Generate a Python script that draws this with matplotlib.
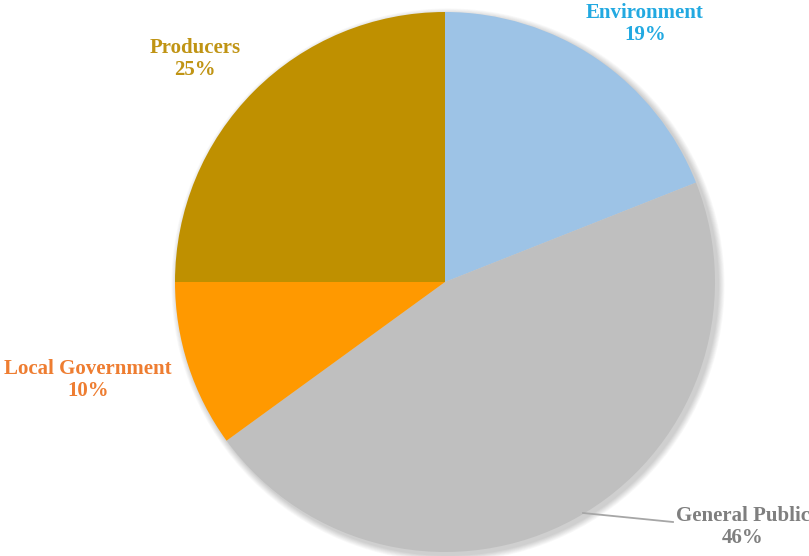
import matplotlib
matplotlib.use("Agg")
import matplotlib.pyplot as plt
import numpy as np

categories = ["Environment", "General Public", "Local Government", "Producers"]
values = [19, 46, 10, 25]
slice_colors = ["#9dc3e6", "#bfbfbf", "#ff9900", "#bf9000"]
label_colors = ["#22a9e1", "#7f7f7f", "#ee7d31", "#c09414"]

W, H = 809, 556
fig = plt.figure(figsize=(W / 100, H / 100), dpi=100)
ax = fig.add_axes([0, 0, 1, 1])
ax.set_xlim(0, W)
ax.set_ylim(0, H)
ax.axis("off")

cx, cy, r = 445, H - 282, 270

# soft shadow
for i in range(8):
    ax.add_patch(plt.Circle((cx + 3, cy - 3), r + 1 + i * 0.8, color="#000000",
                            alpha=0.025, lw=0, zorder=0))

wedges, _ = ax.pie(values, colors=slice_colors, startangle=90, counterclock=False,
                   center=(cx, cy), radius=r, frame=True,
                   wedgeprops=dict(linewidth=0))
ax.set_xlim(0, W)
ax.set_ylim(0, H)
ax.axis("off")

font = dict(family=["Liberation Serif", "DejaVu Serif"], fontweight="bold", fontsize=15)
label_pos = {
    "Environment": (645, H - 24),
    "General Public": (743, H - 527),
    "Local Government": (88, H - 380),
    "Producers": (195, H - 59),
}
for cat, val, col in zip(categories, values, label_colors):
    x, y = label_pos[cat]
    ax.text(x, y, f"{cat}\n{val}%", ha="center", va="center", color=col,
            linespacing=1.1, **font)

# leader line for General Public
ax.plot([583, 673], [H - 513, H - 522], color="#a6a6a6", lw=1.3, zorder=5)

fig.savefig("out.png", dpi=100)
